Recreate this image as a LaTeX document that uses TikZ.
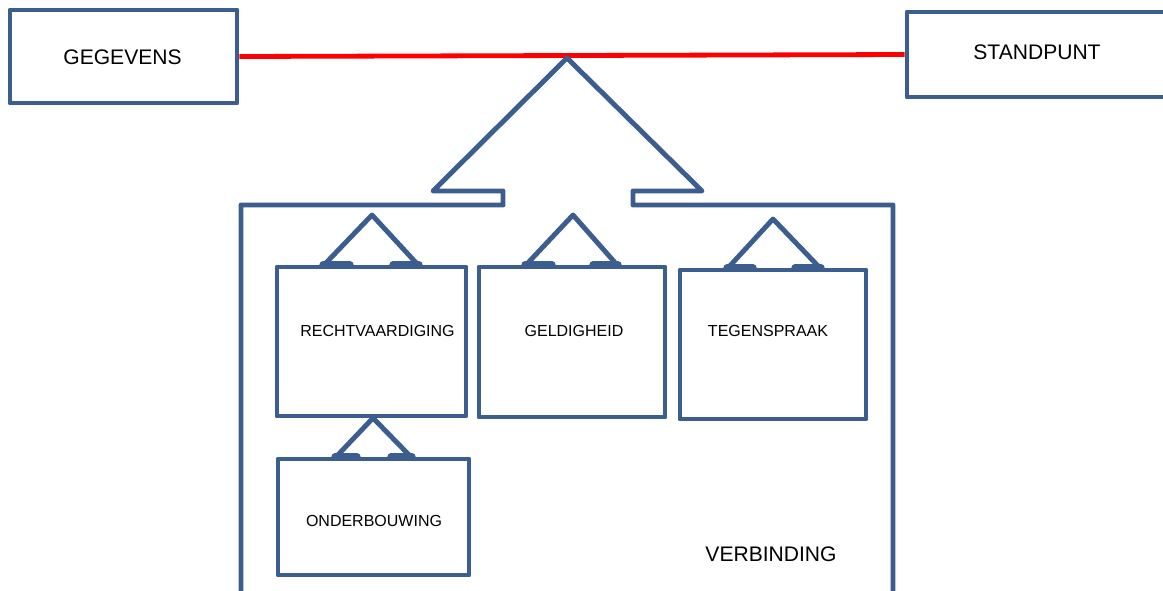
\documentclass[tikz,border=0pt]{standalone}
\usepackage{fontspec}
\setmainfont{Liberation Sans}
\usetikzlibrary{fit}
\definecolor{bord}{HTML}{3B5E8E}
\begin{document}
\begin{tikzpicture}[x=0.75pt,y=-0.75pt,
  outl/.style={draw=bord, line width=3.7pt, line join=round, line cap=round},
  box/.style={outl, rectangle, inner sep=0pt},
  bar/.style={draw=bord, line width=5.6pt, line cap=round},
  bigtxt/.style={font=\fontsize{15.8pt}{19pt}\selectfont, inner sep=0pt},
  smalltxt/.style={font=\fontsize{12pt}{14pt}\selectfont, inner sep=0pt},
  link/.style={draw=red, line width=3.6pt}]
\useasboundingbox (0,0) rectangle (1163,590);

% top boxes
\node[box, fit={(10,10) (237,103)}] (geg) {};
\node[bigtxt] (gegt) at (122.5,57.5) {GEGEVENS};
\node[box, fit={(907,12) (1170,97)}] (stand) {};
\node[bigtxt] (standt) at (1037,52) {STANDPUNT};
\draw[link] (geg.east) -- (stand.west);

% container with big arrow
\draw[outl] (241,600) -- (241,205) -- (503,205) -- (503,191) -- (433,191)
  -- (567,58) -- (702,191) -- (633,191) -- (633,205) -- (893,205) -- (893,600);
\node[bigtxt] (verbt) at (771,554) {VERBINDING};

% inner boxes
\node[box, fit={(277,267) (466,416)}] (recht) {};
\node[smalltxt] (rechtt) at (377.5,331) {RECHTVAARDIGING};
\node[box, fit={(479,267) (665,417)}] (geld) {};
\node[smalltxt] (geldt) at (574,331) {GELDIGHEID};
\node[box, fit={(680,270) (866,419)}] (tegen) {};
\node[smalltxt] (tegent) at (768,331) {TEGENSPRAAK};
\node[box, fit={(278,459) (469,575)}] (onder) {};
\node[smalltxt] (ondert) at (374,520.5) {ONDERBOUWING};

% small arrows
\draw[outl] (323,266) -- (372,215) -- (419,266);
\draw[bar] (323,265) -- (350,265);
\draw[bar] (393,265) -- (419,265);

\draw[outl] (525,266) -- (573,215) -- (618,266);
\draw[bar] (525,265) -- (552,265);
\draw[bar] (593,265) -- (618,265);

\draw[outl] (727,269) -- (773,219) -- (821,269);
\draw[bar] (727,268) -- (753,268);
\draw[bar] (795,268) -- (821,268);

\draw[outl] (335,458) -- (373,418) -- (412,458);
\draw[bar] (335,457) -- (357,457);
\draw[bar] (391,457) -- (412,457);
\end{tikzpicture}
\end{document}
